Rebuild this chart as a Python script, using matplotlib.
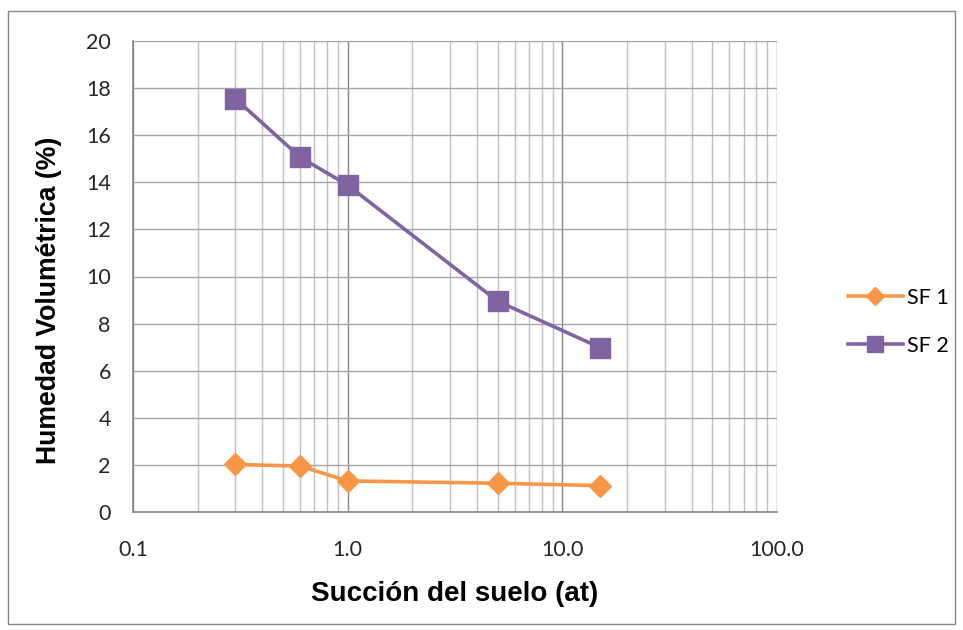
import matplotlib
matplotlib.use("Agg")
import matplotlib.pyplot as plt
from matplotlib.ticker import FixedLocator, LogLocator, NullFormatter
from matplotlib.patches import Rectangle

succion = [0.3, 0.6, 1.0, 5.0, 15.0]
sf1 = [2.02, 1.95, 1.32, 1.22, 1.12]
sf2 = [17.55, 15.07, 13.88, 8.95, 6.98]
series_names = ["SF 1", "SF 2"]
y_ticks = [0, 2, 4, 6, 8, 10, 12, 14, 16, 18, 20]
x_ticks = [0.1, 1.0, 10.0, 100.0]
x_ticklabels = ["0.1", "1.0", "10.0", "100.0"]

orange = "#F79646"
purple = "#8064A2"
fam = ["Lato", "DejaVu Sans"]
fs = 15.5

fig = plt.figure(figsize=(9.63, 6.30), dpi=100)
fig.patches.append(Rectangle((8/963, 1-624/630), 955/963-8/963, (624-11)/630,
                             transform=fig.transFigure, fill=False,
                             edgecolor="#868686", linewidth=1.0))
ax = fig.add_axes([133/963, 1-512/630, (777-133)/963, (512-41)/630])

ax.set_xscale("log")
ax.set_xlim(0.1, 100)
ax.set_ylim(0, 20)

ax.plot(succion, sf1, color=orange, lw=2.6, marker="D", markersize=11,
        label=series_names[0], zorder=3)
ax.plot(succion, sf2, color=purple, lw=2.6, marker="s", markersize=14,
        label=series_names[1], zorder=3)

ax.xaxis.set_major_locator(FixedLocator(x_ticks))
ax.set_xticklabels(x_ticklabels)
ax.xaxis.set_minor_locator(LogLocator(base=10, subs=range(2, 10)))
ax.xaxis.set_minor_formatter(NullFormatter())
ax.set_yticks(y_ticks)

ax.grid(True, which="major", axis="x", color="#868686", lw=1.0)
ax.grid(True, which="major", axis="y", color="#A6A6A6", lw=1.0)
ax.grid(True, which="minor", axis="x", color="#BFBFBF", lw=1.0)
ax.set_axisbelow(True)

for s in ["top", "right"]:
    ax.spines[s].set_visible(False)
for s in ["left", "bottom"]:
    ax.spines[s].set_color("#868686")
    ax.spines[s].set_linewidth(1.2)

ax.tick_params(axis="both", which="both", length=0, colors="#262626",
               labelsize=fs, labelfontfamily="Lato")
ax.tick_params(axis="x", pad=20)
ax.tick_params(axis="y", pad=16)

ax.set_xlabel("Succión del suelo (at)", fontfamily="Liberation Sans",
              fontweight="bold", fontsize=20, labelpad=15)
ax.set_ylabel("Humedad Volumétrica (%)", fontfamily="Liberation Sans",
              fontweight="bold", fontsize=19.2)
ax.yaxis.set_label_coords(-0.110, 0.450)

leg = ax.legend(loc="center left", bbox_to_anchor=(1.08, 0.404), frameon=False,
                prop={"family": fam, "size": fs},
                handlelength=2.55, handletextpad=0.2, labelspacing=1.3,
                markerscale=0.8)

fig.savefig("out.png", dpi=100)
